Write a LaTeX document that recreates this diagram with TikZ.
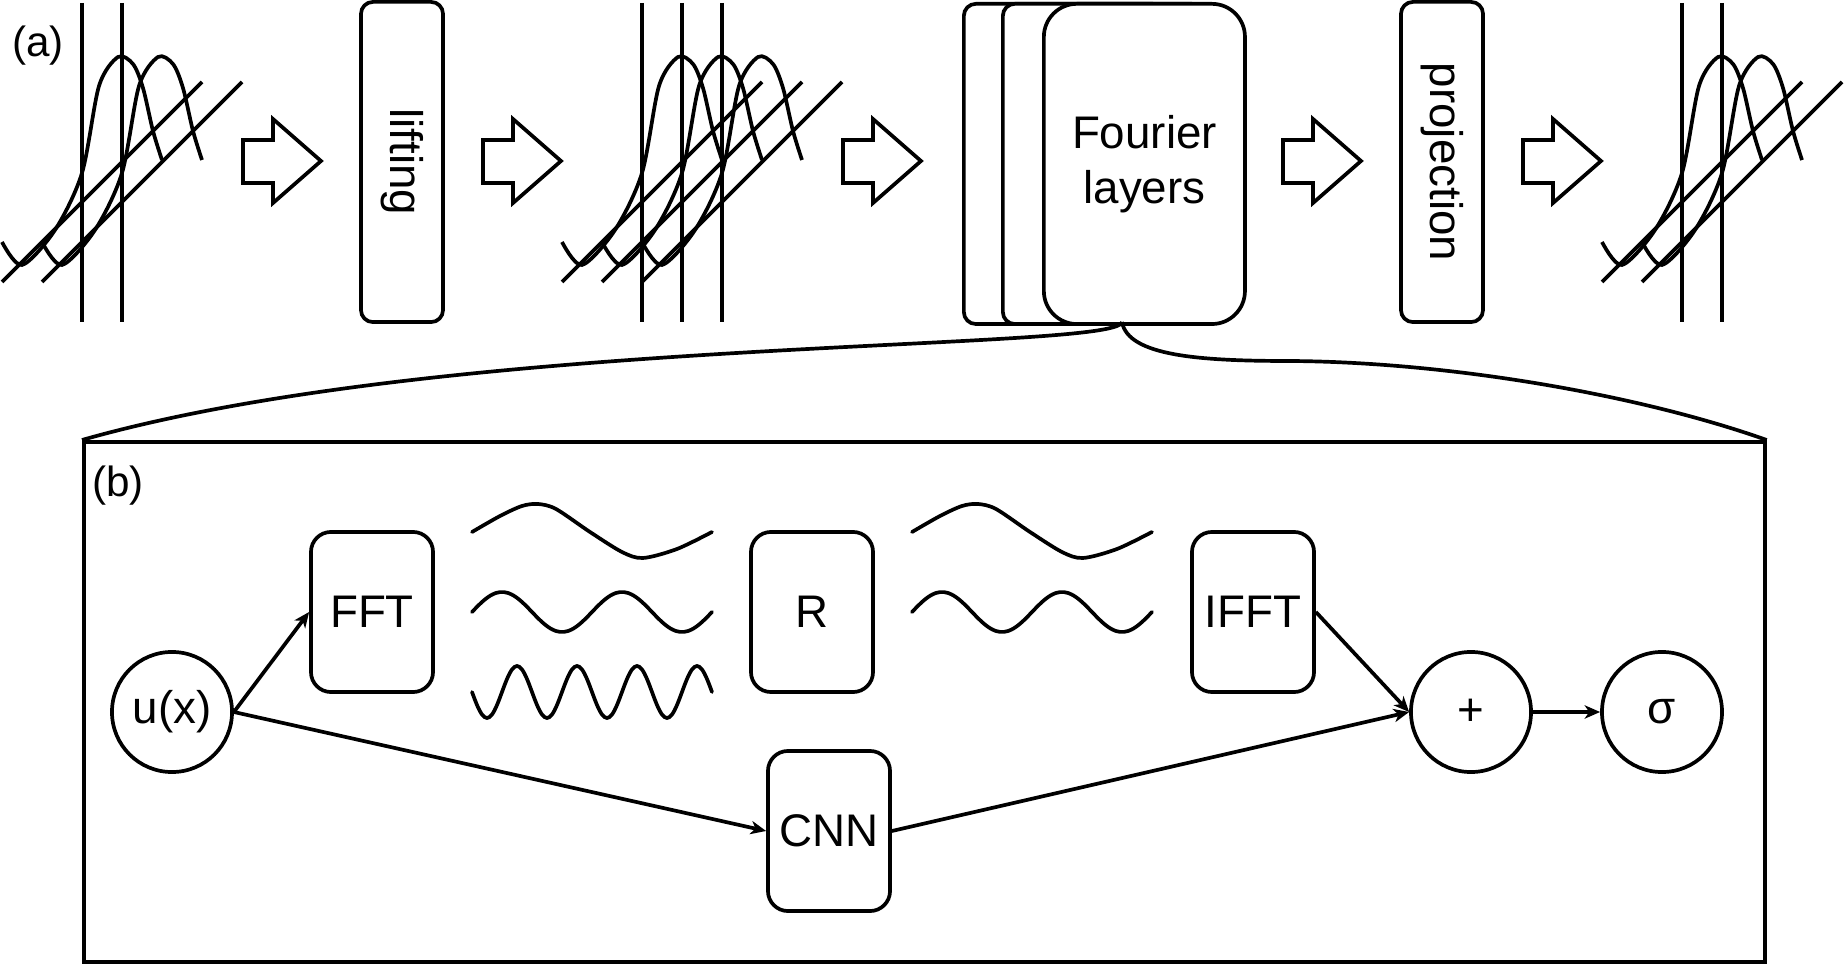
\documentclass[tikz,border=0pt]{standalone}
\usepackage{fontspec}
\setmainfont{Liberation Sans}
\usetikzlibrary{positioning, calc, arrows.meta}

\begin{document}
\begin{tikzpicture}[
    x=0.01cm, y=-0.01cm,
    line width=1.05pt,
    % Styling
    base font/.style={font=\fontsize{13}{15.6}\selectfont},
    tag font/.style={font=\fontsize{12}{14}\selectfont},
    % Tall boxes of the top row
    layer box/.style={
        draw,
        rounded corners=3.4pt,
        minimum width=0.82cm,
        minimum height=3.2cm,
        inner sep=0pt
    },
    stack box/.style={
        draw,
        fill=white,
        rounded corners=3.4pt,
        minimum width=2.01cm,
        minimum height=3.2cm,
        inner sep=0pt
    },
    % Operators of the Fourier layer
    op box/.style={
        draw,
        rounded corners=5.7pt,
        minimum width=1.22cm,
        minimum height=1.6cm,
        inner sep=0pt,
        base font
    },
    op circle/.style={
        draw,
        circle,
        minimum size=1.2cm,
        inner sep=0pt,
        base font
    },
    flow arrow/.style={
        ->,
        >={Stealth[length=4.4pt, width=3.8pt, inset=1.3pt]}
    },
    block arrow/.style={line join=miter},
    field line/.style={line cap=butt},
    wave line/.style={line cap=round}
]
\useasboundingbox (0,0) rectangle (1848,964);

% --- (a) Top row ---
\node[tag font] (taga) at (38,46) {(a)};

% Sampled functions
% Format: origin / number of copies
\foreach \xo/\n in {2/2, 562/3, 1602/2} {
    \foreach \k in {1,...,\n} {
        \pgfmathsetmacro{\dx}{\xo + 40*(\k-1)}
        \draw[field line] (\dx,282) -- ++(200,-200);
        \draw[field line] (\dx+80,3) -- (\dx+80,322);
        \draw[shift={(\dx,0)}] plot[smooth] coordinates {
            (0,242) (20,265) (53,230) (80,173) (97,86) (116,57)
            (131,64) (141,88) (151,131) (160,160)};
    }
}

% Hollow block arrows between the stages
\foreach \xa in {243, 483, 843, 1283, 1523} {
    \draw[block arrow] (\xa,140) -- ++(30,0) -- ++(0,-21) -- ++(48,42)
        -- ++(-48,42) -- ++(0,-20) -- ++(-30,0) -- cycle;
}

% Lifting
\node[layer box] (lifting) at (402,162) {};
\node[base font, rotate=-90] (liftingtext) at (lifting.center) {lifting};

% Stack of Fourier layers
\node[stack box, anchor=north west] (stack1) at (962,2) {};
\node[stack box, anchor=north west] (stack2) at (1001,2) {};
\node[stack box, rounded corners=9.4pt, anchor=north west, base font, align=center]
    (fourier) at (1042,2) {Fourier\\layers};

% Projection
\node[layer box] (projection) at (1442,162) {};
\node[base font, rotate=-90] (projectiontext) at (projection.center) {projection};

% --- (b) Detail of one layer ---
\coordinate (split) at (1122,322);
\node[draw, minimum width=16.8cm, minimum height=5.2cm, inner sep=0pt,
    anchor=north west] (detail) at (82,440) {};
\draw (split) .. controls (1118,352) and (450,335) .. (detail.north west);
\draw (split) .. controls (1128,356) and (1200,361) .. (1290,361)
    .. controls (1450,362) and (1640,395) .. (detail.north east);

\node[tag font] (tagb) at (118,486) {(b)};

\node[op circle] (ux) at (172,712) {u(x)};
\node[op box] (fft) at (372,612) {FFT};
\node[op box] (rbox) at (812,612) {R};
\node[op box] (ifft) at (1253,612) {IFFT};
\node[op box] (cnn) at (829,831) {CNN};
\node[op circle] (plus) at (1471,712) {+};
\node[op circle] (sigma) at (1662,712) {σ};

% Fourier modes before and after R
\foreach \xw in {472, 912} {
    \draw[wave line, shift={(\xw,0)}] plot[smooth] coordinates {
        (0,532) (28,516) (50,506) (66,504) (84,509) (118,532)
        (150,552) (171,558) (205,549) (240,532)};
    \draw[wave line] plot[smooth, domain=0:240, samples=61] ({\xw+\x}, {612-20*sin(3*\x)});
}
\draw[wave line] plot[smooth, domain=0:240, samples=97] ({472+\x}, {692+26*sin(6*\x)});

% Connections
\draw[flow arrow] (ux.east) -- (fft.west);
\draw[flow arrow] (ux.east) -- (cnn.west);
\draw[flow arrow] (cnn.east) -- (plus.west);
\draw[flow arrow] (ifft.east) -- (plus.west);
\draw[flow arrow] (plus) -- (sigma);

\end{tikzpicture}
\end{document}
